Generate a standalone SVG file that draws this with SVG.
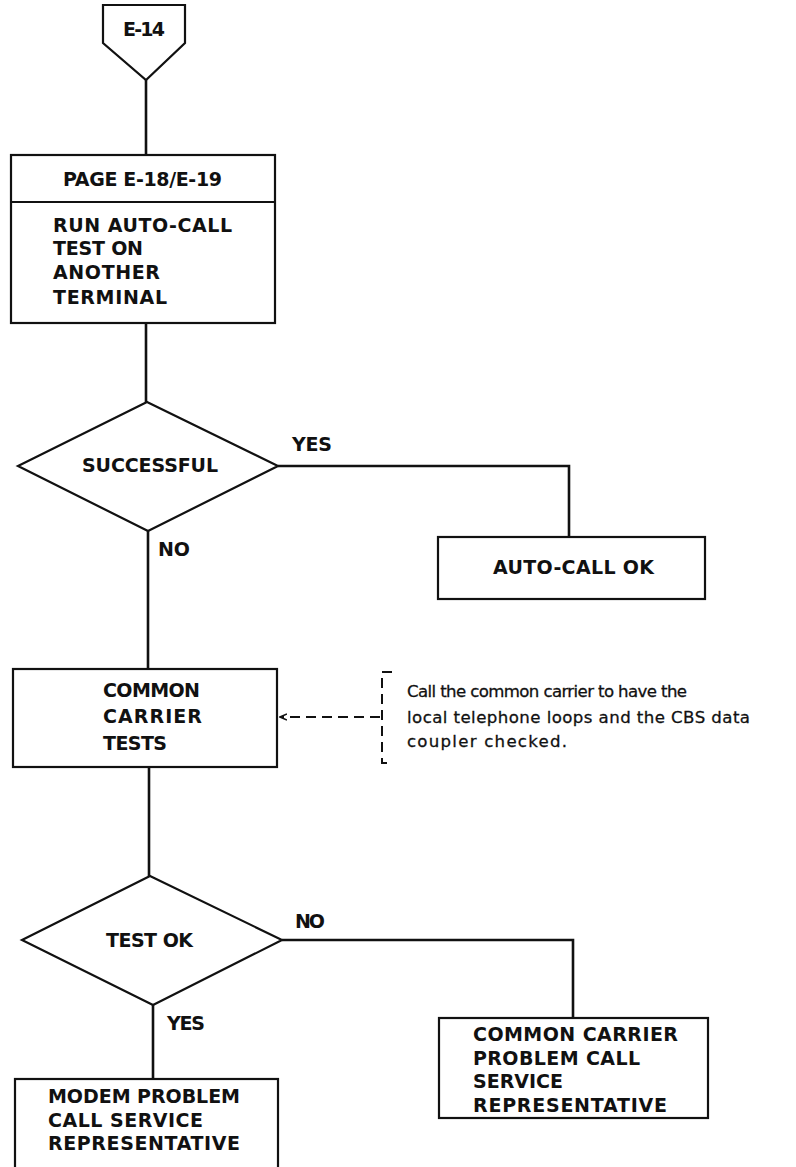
<svg xmlns="http://www.w3.org/2000/svg" width="796" height="1167" viewBox="0 0 796 1167">
<style>
.shape{fill:#fff;stroke:#111;stroke-width:2.2;stroke-linejoin:miter}
.line{fill:none;stroke:#111;stroke-width:2.6}
.dash{fill:none;stroke:#111;stroke-width:2;stroke-dasharray:10 6}
.t{font-family:"DejaVu Sans","Liberation Sans",Arial,sans-serif;font-weight:bold;font-size:19px;fill:#111}
.n{font-family:"DejaVu Sans","Liberation Sans",Arial,sans-serif;font-size:16.6px;fill:#111;stroke:#111;stroke-width:0.3}
</style>
<defs>
<marker id="arr" markerWidth="8" markerHeight="8" refX="7" refY="4" orient="auto" markerUnits="userSpaceOnUse">
<path d="M0,1 L7,4 L0,7" fill="none" stroke="#111" stroke-width="1.5"/>
</marker>
</defs>
<rect width="796" height="1167" fill="#fff"/>
<g id="connectors">
<line class="line" x1="146" y1="80" x2="146" y2="155"/>
<line class="line" x1="146" y1="323" x2="146" y2="402"/>
<line class="line" x1="148" y1="531" x2="148" y2="669"/>
<line class="line" x1="149" y1="767" x2="149" y2="876"/>
<line class="line" x1="153" y1="1005" x2="153" y2="1079"/>
<polyline class="line" points="278,466 569,466 569,537"/>
<polyline class="line" points="282,940 573,940 573,1018"/>
<line class="dash" x1="380" y1="717" x2="280" y2="717" marker-end="url(#arr)"/>
<polyline class="dash" points="392,672 382,672 382,763 392,763"/>
<text class="t" x="292" y="451" textLength="40">YES</text>
<text class="t" x="158" y="556" textLength="32">NO</text>
<text class="t" x="295" y="928" textLength="30">NO</text>
<text class="t" x="167" y="1030" textLength="38">YES</text>
</g>
<g id="e14">
<path class="shape" d="M103,5 L185,5 L185,43 L146,80 L103,43 Z"/>
<text class="t" x="123" y="36" textLength="42">E-14</text>
</g>
<g id="page-box">
<rect class="shape" x="11" y="155" width="264" height="168"/>
<line class="shape" x1="11" y1="202" x2="275" y2="202"/>
<text class="t" x="63" y="186" textLength="159">PAGE E-18/E-19</text>
<text class="t" x="53" y="232" textLength="179">RUN AUTO-CALL</text>
<text class="t" x="53" y="255" textLength="90">TEST ON</text>
<text class="t" x="53" y="279" textLength="107">ANOTHER</text>
<text class="t" x="53" y="304" textLength="114">TERMINAL</text>
</g>
<g id="successful">
<path class="shape" d="M147,402 L278,466 L148,531 L18,466 Z"/>
<text class="t" x="82" y="472" textLength="136">SUCCESSFUL</text>
</g>
<g id="autocall-ok">
<rect class="shape" x="438" y="537" width="267" height="62"/>
<text class="t" x="493" y="574" textLength="161">AUTO-CALL OK</text>
</g>
<g id="common-carrier-tests">
<rect class="shape" x="13" y="669" width="264" height="98"/>
<text class="t" x="103" y="697" textLength="97">COMMON</text>
<text class="t" x="103" y="723" textLength="99">CARRIER</text>
<text class="t" x="103" y="750" textLength="64">TESTS</text>
</g>
<g id="note">
<text class="n" x="407" y="697" textLength="280">Call the common carrier to have the</text>
<text class="n" x="407" y="723" textLength="343">local telephone loops and the CBS data</text>
<text class="n" x="407" y="747" textLength="160">coupler checked.</text>
</g>
<g id="test-ok">
<path class="shape" d="M150,876 L282,940 L153,1005 L22,940 Z"/>
<text class="t" x="106" y="947" textLength="87">TEST OK</text>
</g>
<g id="carrier-problem">
<rect class="shape" x="439" y="1018" width="269" height="100"/>
<text class="t" x="473" y="1041" textLength="205">COMMON CARRIER</text>
<text class="t" x="473" y="1065" textLength="167">PROBLEM CALL</text>
<text class="t" x="473" y="1088" textLength="90">SERVICE</text>
<text class="t" x="473" y="1112" textLength="194">REPRESENTATIVE</text>
</g>
<g id="modem-problem">
<rect class="shape" x="15" y="1079" width="263" height="100"/>
<text class="t" x="48" y="1103" textLength="192">MODEM PROBLEM</text>
<text class="t" x="48" y="1127" textLength="155">CALL SERVICE</text>
<text class="t" x="48" y="1150" textLength="192">REPRESENTATIVE</text>
</g>
</svg>
